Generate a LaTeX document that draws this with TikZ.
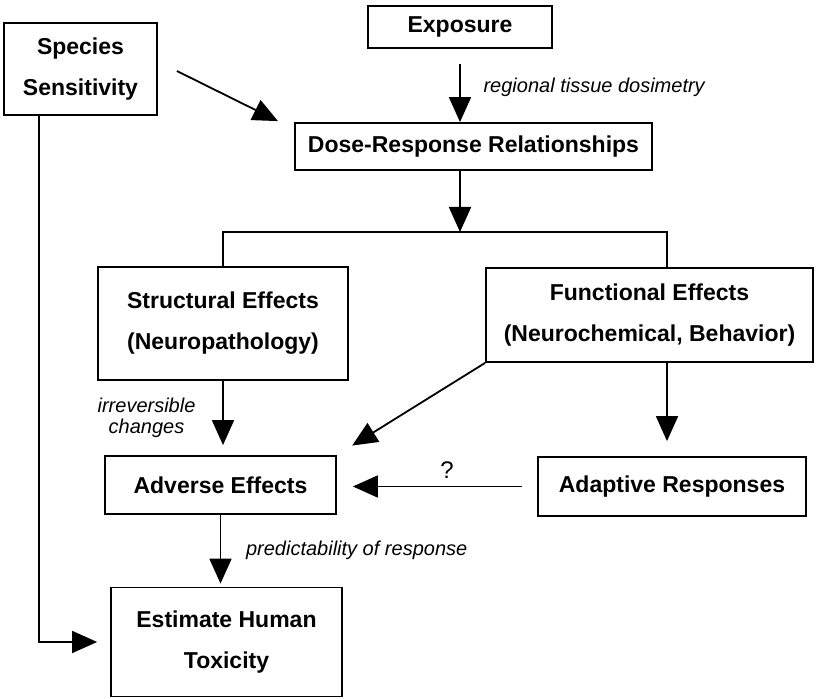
\documentclass[tikz,border=0pt]{standalone}
\usepackage{fontspec}
\setmainfont{Liberation Sans}
\usetikzlibrary{arrows.meta}

\tikzset{
  box/.style={draw, line width=0.9pt, align=center, inner sep=2pt,
    font=\bfseries\fontsize{11.5}{20.5}\selectfont},
  arr/.style={line width=0.9pt, -{Triangle[length=12.5pt,width=11pt]}},
  lbl/.style={font=\itshape\fontsize{10}{10.5}\selectfont}
}

\begin{document}
\begin{tikzpicture}[x=0.5pt,y=-0.5pt]
	\useasboundingbox (0,0) rectangle (819,699);
% boxes
	\node[box, minimum width=76.5pt, minimum height=46pt] (species) at (80.5,69) {Species\\Sensitivity};
	\node[box, minimum width=92pt, minimum height=21pt] (exposure) at (460,27) {Exposure};
	\node[box, minimum width=178.5pt, minimum height=23.5pt] (dose) at (473.5,146.5) {Dose-Response Relationships};
	\node[box, minimum width=125pt, minimum height=56.5pt] (struct) at (223,323.5) {Structural Effects\\(Neuropathology)};
	\node[box, minimum width=163.5pt, minimum height=47pt] (func) at (649.5,315) {Functional Effects\\(Neurochemical, Behavior)};
	\node[box, minimum width=115.5pt, minimum height=29pt] (adverse) at (220.5,485) {Adverse Effects};
	\node[box, minimum width=134pt, minimum height=29.5pt] (adaptive) at (672,486.5) {Adaptive Responses};
	\node[box, minimum width=115.5pt, minimum height=54.5pt] (estimate) at (226.5,642) {Estimate Human\\Toxicity};
% branch points
	\coordinate (split) at (460,232);
	\coordinate (fjoin) at (667,232);
% exposure to dose
	\draw[arr, shorten <=7.5pt] (exposure.south) -- (exposure.south |- dose.north)
		node[lbl, right, xshift=8pt, pos=0.52] {regional tissue dosimetry};
% species to dose
	\draw[arr, shorten <=10.6pt, shorten >=9pt] ([yshift=3.7pt]species.east) -- ([yshift=-3.5pt]dose.north west);
% dose to branch
	\draw[arr] (dose.south -| split) -- (split);
	\draw[line width=0.9pt] (struct.north) |- (fjoin) -- (fjoin |- func.north);
% structural to adverse
	\draw[arr, shorten >=5pt] (struct.south) -- (struct.south |- adverse.north)
		node[lbl, left, xshift=-10pt, midway, align=center] {irreversible\\changes};
% functional to adverse
	\draw[arr, shorten >=9pt] (func.south west) -- (adverse.north east);
% functional to adaptive
	\draw[arr, shorten >=7.5pt] (func.south -| fjoin) -- (fjoin |- adaptive.north);
% adaptive to adverse
	\draw[arr, shorten <=7.5pt, shorten >=8pt] (adaptive.west) -- (adaptive.west -| adverse.east)
		node[above, pos=0.45, font=\fontsize{12}{12}\selectfont] {?};
% adverse to estimate
	\draw[arr, shorten >=1.5pt] (adverse.south) -- (adverse.south |- estimate.north)
		node[lbl, right, xshift=9pt, midway] {predictability of response};
% species to estimate
	\draw[arr, shorten >=6.5pt] ([xshift=18pt]species.south west) |- (estimate.west);
\end{tikzpicture}
\end{document}
